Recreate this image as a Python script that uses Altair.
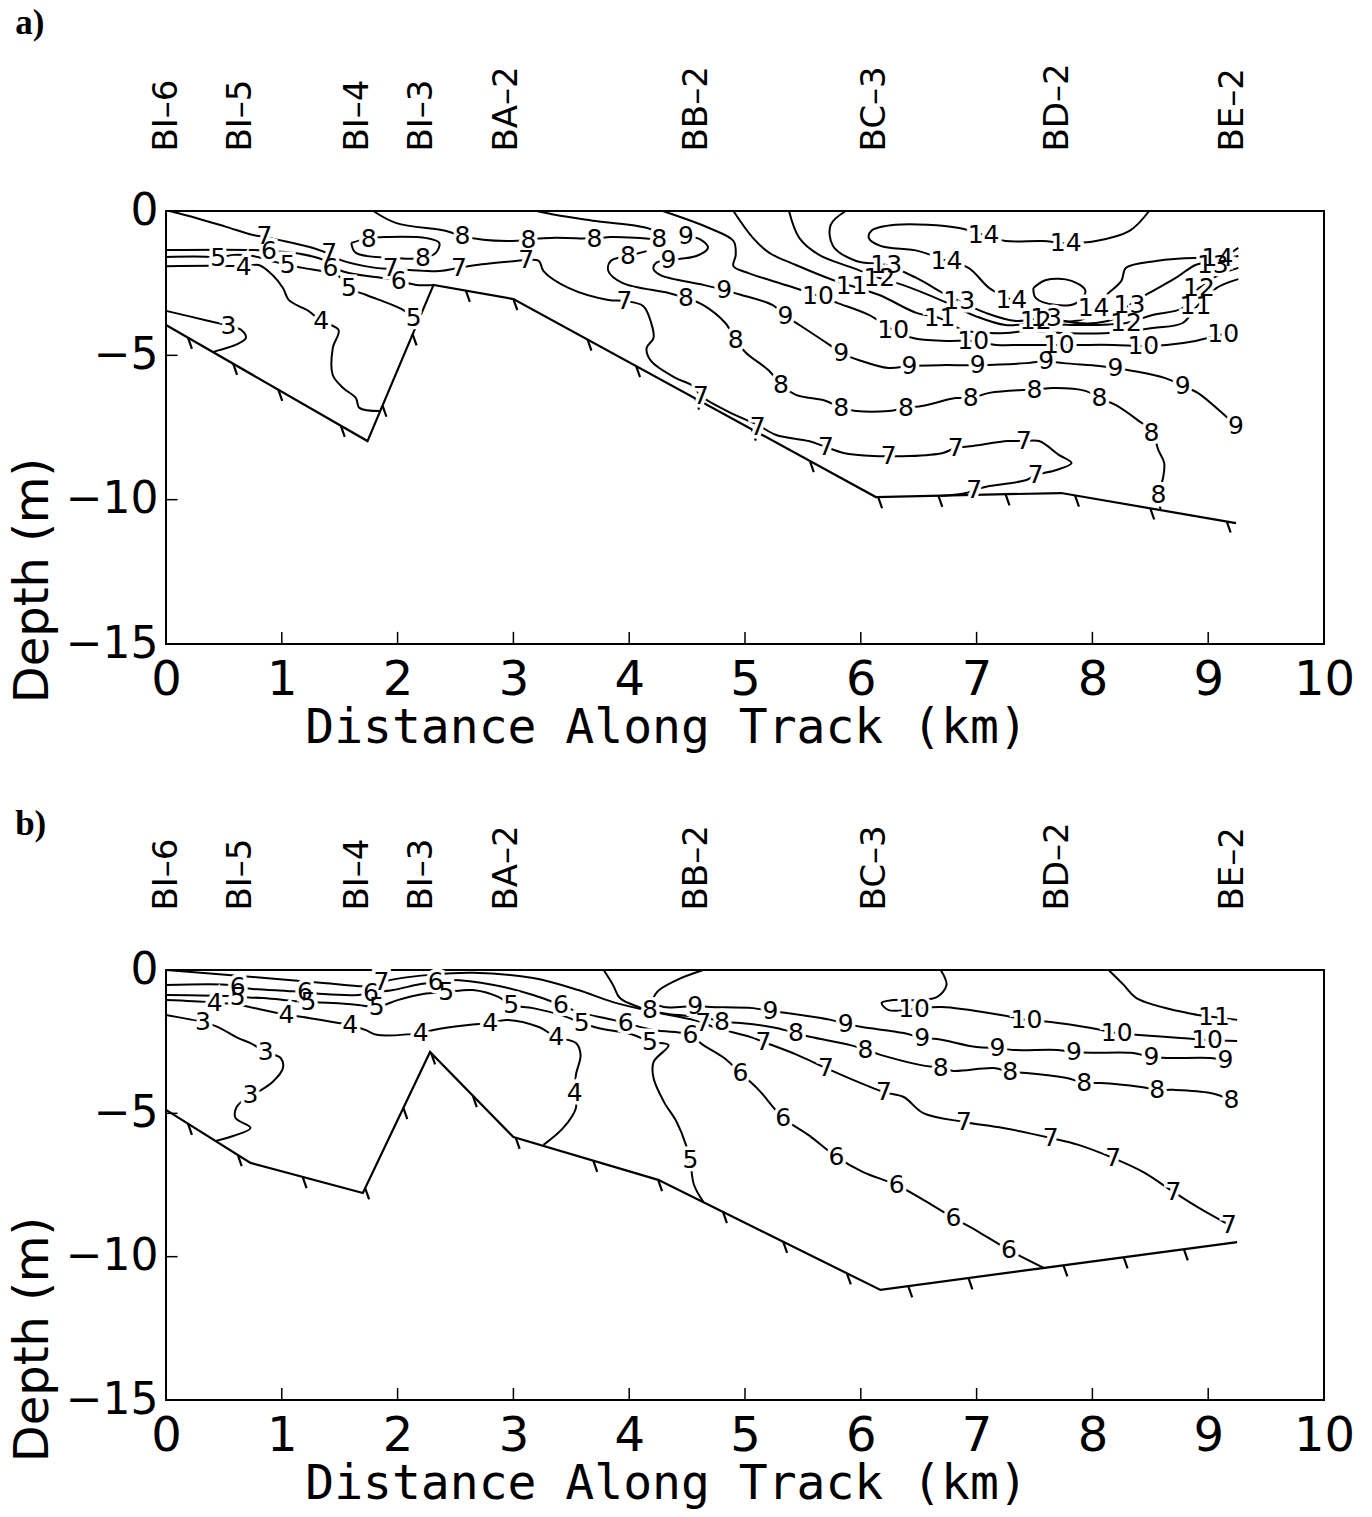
import altair as alt
import pandas as pd

# ---------------- shared labels / ticks ----------------
STATION_NAMES = ["BI–6", "BI–5", "BI–4", "BI–3", "BA–2", "BB–2", "BC–3", "BD–2", "BE–2"]
STATION_KM = [0.0, 0.64, 1.65, 2.21, 2.94, 4.58, 6.12, 7.70, 9.21]
X_TICKS = [0, 1, 2, 3, 4, 5, 6, 7, 8, 9, 10]
Y_TICKS = [0, -5, -10, -15]
X_INNER = [1, 2, 3, 4, 5, 6, 7, 8, 9]
Y_INNER = [-5, -10]

# ---------------- panel a ----------------
BOTTOM_A = [(0.00, -3.95), (1.74, -7.97), (2.31, -2.56), (3.00, -3.05), (6.13, -9.91), (7.73, -9.77), (9.24, -10.81)]
HACH_A_KM = [0.19, 0.58, 0.97, 1.51, 1.87, 2.13, 2.59, 3.00, 3.64, 4.06, 4.57, 5.06, 5.56, 6.15, 6.67, 7.25, 7.85, 8.50, 9.16]
HACH_A_M = [-4.39, -5.29, -6.19, -7.44, -6.74, -4.27, -2.76, -3.05, -4.45, -5.37, -6.49, -7.57, -8.66, -9.91, -9.86, -9.81, -9.85, -10.30, -10.75]

A3 = [(0.00, -3.46), (0.37, -3.81), (0.54, -3.98), (0.65, -4.12), (0.69, -4.40), (0.60, -4.64), (0.46, -4.82), (0.41, -4.88)]
LAB_A3 = [(0.54, -3.98)]
A4 = [(0.00, -1.91), (0.60, -1.91), (0.67, -1.94), (0.80, -1.87), (0.92, -2.22), (1.01, -2.67), (1.06, -3.08), (1.18, -3.36),
      (1.23, -3.46), (1.34, -3.81), (1.49, -4.12), (1.44, -4.75), (1.44, -5.68), (1.53, -6.13), (1.64, -6.48), (1.67, -6.82), (1.85, -6.93)]
LAB_A4 = [(0.67, -1.94), (1.34, -3.81)]
A5 = [(0.00, -1.59), (0.37, -1.59), (0.45, -1.63), (0.58, -1.52), (0.75, -1.56), (0.91, -1.73), (1.05, -1.87), (1.18, -1.97),
      (1.49, -2.25), (1.58, -2.67), (1.73, -2.91), (2.05, -3.43), (2.14, -3.71), (2.18, -3.81)]
LAB_A5 = [(0.45, -1.63), (1.05, -1.87), (1.58, -2.67), (2.14, -3.71)]
A6 = [(0.00, -1.35), (0.75, -1.35), (0.89, -1.39), (1.10, -1.45), (1.36, -1.70), (1.42, -1.91), (1.58, -2.15), (1.87, -2.32),
      (2.01, -2.42), (2.16, -2.56), (2.31, -2.56)]
LAB_A6 = [(0.89, -1.39), (1.42, -1.97), (2.01, -2.42)]
A7 = [(0.03, 0.00), (0.26, -0.24), (0.52, -0.55), (0.75, -0.83), (0.85, -0.90), (0.97, -1.00), (1.27, -1.28), (1.41, -1.49),
      (1.51, -1.70), (1.81, -1.97), (1.94, -2.01), (2.10, -2.04), (2.36, -2.08), (2.53, -1.97), (2.68, -1.87), (3.02, -1.73),
      (3.11, -1.70), (3.22, -1.73), (3.26, -2.08), (3.48, -2.67), (3.82, -3.08), (3.96, -3.12), (4.12, -3.29), (4.19, -3.88),
      (4.21, -4.40), (4.15, -4.75), (4.19, -5.20), (4.40, -5.78), (4.55, -6.06), (4.62, -6.41), (4.88, -7.00), (5.11, -7.41),
      (5.27, -7.76), (5.55, -7.97), (5.70, -8.18), (5.85, -8.38), (6.11, -8.49), (6.24, -8.49), (6.42, -8.49), (6.71, -8.38),
      (6.82, -8.21), (6.97, -8.14), (7.27, -7.97), (7.41, -7.97), (7.54, -7.97), (7.71, -8.45), (7.82, -8.73), (7.69, -8.97),
      (7.51, -9.15), (7.43, -9.32), (7.11, -9.53), (6.98, -9.66), (6.91, -9.77), (6.69, -9.87)]
LAB_A7 = [(0.85, -0.87), (1.41, -1.45), (1.94, -1.97), (2.53, -1.97), (3.11, -1.70), (3.96, -3.12), (4.62, -6.41), (5.11, -7.48),
          (5.70, -8.18), (6.24, -8.49), (6.82, -8.21), (7.41, -7.97), (7.51, -9.15), (6.98, -9.66)]
A8_TOP = [(1.79, 0.00), (1.99, -0.42), (2.42, -0.69), (2.56, -0.87), (2.74, -1.00), (2.96, -1.04), (3.13, -1.00), (3.26, -0.94),
          (3.54, -0.94), (3.70, -0.97), (3.84, -0.90), (4.12, -0.94), (4.26, -0.97), (4.20, -0.66), (3.71, -0.35), (3.37, -0.14), (3.20, 0.00)]
LAB_A8_TOP = [(2.56, -0.87), (3.13, -1.00), (3.70, -0.97), (4.26, -0.97)]
A8_LOOP = [(1.60, -1.11), (1.64, -1.45), (1.99, -1.63), (2.22, -1.63), (2.33, -1.45), (2.36, -1.11), (2.25, -0.94), (1.90, -0.90),
           (1.75, -0.94), (1.60, -1.11)]
LAB_A8_LOOP = [(1.75, -0.97), (2.22, -1.63)]
A8_LOW = [(4.15, -1.39), (3.99, -1.56), (3.84, -1.73), (3.82, -2.08), (3.94, -2.49), (4.34, -2.84), (4.49, -3.01), (4.64, -3.26),
          (4.83, -3.88), (4.92, -4.47), (5.01, -4.92), (5.21, -5.54), (5.31, -6.03), (5.44, -6.37), (5.70, -6.58), (5.83, -6.82),
          (5.96, -6.93), (6.24, -6.93), (6.39, -6.82), (6.54, -6.75), (6.82, -6.48), (6.95, -6.48), (7.11, -6.30), (7.40, -6.20),
          (7.50, -6.20), (7.66, -6.13), (7.94, -6.23), (8.06, -6.48), (8.20, -6.72), (8.40, -7.27), (8.51, -7.62), (8.57, -8.28),
          (8.62, -8.73), (8.61, -9.25), (8.57, -9.84), (8.59, -10.36)]
LAB_A8_LOW = [(3.99, -1.56), (4.49, -3.01), (4.92, -4.47), (5.31, -6.03), (5.83, -6.82), (6.39, -6.82), (6.95, -6.48), (7.50, -6.20),
              (8.06, -6.48), (8.51, -7.69), (8.57, -9.84)]
A9 = [(4.49, -0.87), (4.62, -1.00), (4.68, -1.28), (4.58, -1.56), (4.34, -1.70), (4.23, -1.80), (4.21, -2.01), (4.27, -2.22),
      (4.64, -2.56), (4.82, -2.74), (4.97, -2.91), (5.24, -3.26), (5.35, -3.64), (5.47, -3.95), (5.73, -4.64), (5.83, -4.92),
      (5.98, -5.16), (6.24, -5.44), (6.42, -5.37), (6.69, -5.34), (7.01, -5.34), (7.43, -5.27), (7.60, -5.20), (7.75, -5.27),
      (8.06, -5.37), (8.20, -5.44), (8.35, -5.54), (8.63, -5.79), (8.78, -6.06), (8.91, -6.30), (9.14, -7.07), (9.24, -7.45)]
LAB_A9 = [(4.49, -0.87), (4.34, -1.70), (4.82, -2.74), (5.35, -3.64), (5.83, -4.92), (6.42, -5.37), (7.01, -5.34), (7.60, -5.20),
          (8.20, -5.44), (8.78, -6.06), (9.24, -7.45)]
A10 = [(4.29, 0.00), (4.69, -0.59), (4.90, -1.04), (4.92, -1.52), (4.90, -1.91), (5.03, -2.15), (5.38, -2.60), (5.63, -2.94),
       (5.80, -3.19), (6.07, -3.60), (6.28, -4.12), (6.45, -4.40), (6.74, -4.50), (6.97, -4.50), (7.17, -4.64), (7.40, -4.64),
       (7.71, -4.64), (7.88, -4.64), (8.18, -4.64), (8.44, -4.68), (8.64, -4.64), (8.89, -4.50), (9.13, -4.26), (9.26, -4.16)]
LAB_A10 = [(5.63, -2.94), (6.28, -4.12), (6.97, -4.50), (7.71, -4.64), (8.44, -4.68), (9.13, -4.26)]
A11 = [(4.90, 0.00), (5.07, -0.94), (5.21, -1.45), (5.44, -1.87), (5.76, -2.39), (5.92, -2.60), (6.16, -2.91), (6.48, -3.53),
       (6.68, -3.71), (6.88, -4.12), (7.25, -4.23), (7.43, -4.16), (7.77, -4.23), (8.14, -4.23), (8.52, -4.05), (8.78, -3.88),
       (8.89, -3.36), (9.07, -2.67), (9.26, -2.36)]
LAB_A11 = [(5.92, -2.60), (6.68, -3.71), (8.89, -3.30)]
A12 = [(5.38, 0.00), (5.47, -0.94), (5.64, -1.52), (5.93, -1.97), (6.16, -2.32), (6.36, -2.56), (6.71, -3.12), (6.99, -3.64),
       (7.25, -3.95), (7.51, -3.88), (7.85, -3.95), (8.29, -3.88), (8.52, -3.60), (8.78, -3.36), (8.92, -2.67), (9.09, -2.22), (9.26, -1.97)]
LAB_A12 = [(6.16, -2.32), (7.51, -3.81), (8.29, -3.88), (8.92, -2.67)]
A13 = [(5.87, 0.00), (5.74, -0.48), (5.76, -1.21), (5.96, -1.73), (6.22, -1.87), (6.48, -2.32), (6.74, -2.91), (6.85, -3.12),
       (7.08, -3.53), (7.34, -3.81), (7.60, -3.71), (7.86, -3.88), (8.03, -3.88), (8.20, -3.71), (8.32, -3.26), (8.49, -2.84),
       (8.72, -2.32), (8.89, -1.87), (9.04, -1.73), (9.26, -1.56)]
LAB_A13 = [(6.22, -1.87), (6.85, -3.12), (7.60, -3.71), (8.32, -3.26), (9.04, -1.87)]
A14 = [(8.49, 0.00), (8.32, -0.69), (8.03, -1.04), (7.77, -1.11), (7.57, -1.04), (7.25, -1.04), (7.06, -0.83), (6.85, -0.59),
       (6.30, -0.48), (6.09, -0.69), (6.07, -0.94), (6.17, -1.21), (6.50, -1.39), (6.74, -1.73), (6.93, -1.97), (7.11, -2.67),
       (7.30, -3.08), (7.51, -3.53), (7.71, -3.81), (7.94, -3.71), (8.01, -3.36), (8.12, -2.91), (8.25, -2.42), (8.29, -1.97),
       (8.55, -1.73), (8.89, -1.63), (9.08, -1.66), (9.26, -1.28)]
LAB_A14 = [(7.06, -0.83), (7.77, -1.11), (6.74, -1.73), (7.30, -3.08), (8.01, -3.36), (9.08, -1.63)]
A_CORE = [(7.49, -2.67), (7.60, -2.39), (7.82, -2.42), (7.94, -2.77), (7.86, -3.19), (7.69, -3.26), (7.51, -3.01), (7.49, -2.67)]
LAB_A_CORE = []

# ---------------- panel b ----------------
BOTTOM_B = [(0.00, -4.88), (0.73, -6.73), (1.70, -7.78), (2.28, -2.86), (3.00, -5.83), (4.25, -7.32), (6.17, -11.16), (9.25, -9.49)]
HACH_B_KM = [0.19, 0.62, 1.18, 1.72, 2.05, 2.29, 2.65, 3.02, 3.69, 4.25, 4.81, 5.33, 5.88, 6.41, 6.93, 7.75, 8.27, 8.79]
HACH_B_M = [-5.36, -6.45, -7.22, -7.61, -4.81, -2.90, -4.39, -5.85, -6.65, -7.32, -8.44, -9.48, -10.58, -11.03, -10.75, -10.30, -10.02, -9.74]

B3 = [(0.00, -1.57), (0.23, -1.74), (0.32, -1.81), (0.45, -1.99), (0.62, -2.37), (0.73, -2.55), (0.86, -2.86), (0.99, -3.07),
      (1.01, -3.42), (0.92, -3.91), (0.82, -4.19), (0.73, -4.36), (0.61, -4.78), (0.60, -5.16), (0.73, -5.51), (0.58, -5.79), (0.43, -5.96)]
LAB_B3 = [(0.32, -1.81), (0.86, -2.86), (0.73, -4.36)]
B4 = [(0.00, -1.05), (0.36, -1.12), (0.42, -1.15), (0.58, -1.19), (0.88, -1.43), (1.04, -1.57), (1.18, -1.64), (1.49, -1.85),
      (1.59, -1.92), (1.72, -2.09), (1.83, -2.27), (2.13, -2.23), (2.20, -2.20), (2.31, -2.09), (2.61, -1.92), (2.80, -1.85),
      (2.94, -1.74), (3.22, -1.99), (3.37, -2.34), (3.54, -2.55), (3.58, -2.96), (3.54, -3.66), (3.53, -4.29), (3.54, -4.81),
      (3.43, -5.51), (3.26, -6.10)]
LAB_B4 = [(0.42, -1.15), (1.04, -1.57), (1.59, -1.92), (2.20, -2.20), (2.80, -1.85), (3.37, -2.34), (3.53, -4.29)]
B5 = [(0.00, -0.87), (0.55, -0.91), (0.62, -0.94), (0.84, -0.98), (1.10, -1.08), (1.23, -1.12), (1.44, -1.15), (1.66, -1.22),
      (1.82, -1.29), (2.00, -1.05), (2.22, -0.84), (2.42, -0.77), (2.65, -0.70), (2.87, -0.94), (2.98, -1.22), (3.17, -1.33),
      (3.43, -1.60), (3.59, -1.85), (3.73, -2.02), (4.04, -2.27), (4.18, -2.51), (4.34, -2.62), (4.21, -3.21), (4.21, -3.77),
      (4.30, -4.60), (4.41, -5.30), (4.49, -6.10), (4.53, -6.80), (4.56, -7.50), (4.64, -8.09)]
LAB_B5 = [(0.62, -0.94), (1.23, -1.12), (1.82, -1.29), (2.42, -0.77), (2.98, -1.22), (3.59, -1.85), (4.18, -2.51), (4.53, -6.63)]
B6 = [(0.00, -0.52), (0.55, -0.52), (0.62, -0.59), (0.75, -0.66), (1.04, -0.73), (1.20, -0.77), (1.36, -0.84), (1.66, -0.87),
      (1.77, -0.80), (1.96, -0.70), (2.20, -0.49), (2.33, -0.42), (2.45, -0.35), (2.83, -0.52), (3.17, -0.87), (3.41, -1.22),
      (3.56, -1.46), (3.86, -1.74), (3.97, -1.85), (4.21, -2.09), (4.47, -2.20), (4.53, -2.27), (4.64, -2.62), (4.82, -3.07),
      (4.96, -3.59), (5.12, -4.19), (5.33, -5.16), (5.55, -5.76), (5.79, -6.52), (6.02, -7.05), (6.31, -7.50), (6.54, -8.02),
      (6.80, -8.65), (7.02, -9.14), (7.28, -9.77), (7.58, -10.39)]
LAB_B6 = [(0.62, -0.59), (1.20, -0.77), (1.77, -0.80), (2.33, -0.42), (3.41, -1.22), (3.97, -1.85), (4.53, -2.27), (4.96, -3.59),
          (5.33, -5.16), (5.79, -6.52), (6.31, -7.50), (6.80, -8.65), (7.28, -9.77)]
B7 = [(0.00, 0.00), (0.75, -0.24), (1.36, -0.45), (1.75, -0.56), (1.86, -0.42), (1.99, -0.31), (2.28, -0.17), (2.65, -0.10),
      (3.17, -0.28), (3.56, -0.70), (3.86, -1.12), (4.21, -1.46), (4.55, -1.74), (4.64, -1.85), (4.75, -2.02), (5.05, -2.34),
      (5.16, -2.51), (5.45, -2.96), (5.70, -3.42), (5.98, -3.91), (6.20, -4.26), (6.37, -4.43), (6.54, -4.99), (6.89, -5.30),
      (7.23, -5.51), (7.64, -5.86), (7.88, -6.10), (8.18, -6.56), (8.44, -7.05), (8.70, -7.74), (8.92, -8.30), (9.18, -8.89)]
LAB_B7 = [(1.86, -0.42), (4.64, -1.85), (5.16, -2.51), (5.70, -3.42), (6.20, -4.26), (6.89, -5.30), (7.64, -5.86), (8.18, -6.56),
          (8.70, -7.74), (9.18, -8.89)]
B8 = [(3.78, 0.00), (3.86, -0.52), (3.92, -0.98), (4.08, -1.29), (4.18, -1.40), (4.32, -1.53), (4.67, -1.67), (4.80, -1.81),
      (4.96, -1.85), (5.27, -2.02), (5.44, -2.20), (5.57, -2.34), (5.91, -2.62), (6.04, -2.79), (6.17, -2.96), (6.51, -3.31),
      (6.69, -3.42), (6.80, -3.52), (7.15, -3.42), (7.29, -3.56), (7.43, -3.59), (7.78, -3.77), (7.93, -3.94), (8.07, -3.94),
      (8.42, -4.08), (8.56, -4.18), (8.70, -4.18), (9.02, -4.29), (9.20, -4.53)]
LAB_B8 = [(4.18, -1.40), (4.80, -1.81), (5.44, -2.20), (6.04, -2.79), (6.69, -3.42), (7.29, -3.56), (7.93, -3.94), (8.56, -4.18), (9.20, -4.53)]
B9 = [(4.64, 0.00), (4.41, -0.35), (4.24, -0.77), (4.21, -1.12), (4.30, -1.29), (4.44, -1.29), (4.57, -1.26), (4.70, -1.29),
      (5.07, -1.33), (5.22, -1.43), (5.36, -1.50), (5.74, -1.74), (5.87, -1.88), (6.01, -1.99), (6.37, -2.20), (6.53, -2.37),
      (6.66, -2.41), (7.00, -2.69), (7.18, -2.72), (7.32, -2.79), (7.70, -2.79), (7.84, -2.86), (7.99, -2.89), (8.33, -2.89),
      (8.51, -3.03), (8.64, -3.07), (9.02, -3.07), (9.15, -3.14)]
LAB_B9 = [(4.57, -1.26), (5.22, -1.43), (5.87, -1.88), (6.53, -2.37), (7.18, -2.72), (7.84, -2.86), (8.51, -3.03), (9.15, -3.14)]
B10 = [(6.69, 0.00), (6.74, -0.52), (6.66, -0.94), (6.50, -1.05), (6.28, -1.05), (6.18, -1.15), (6.24, -1.40), (6.46, -1.36),
       (6.70, -1.29), (7.21, -1.57), (7.43, -1.74), (7.64, -1.81), (7.99, -2.02), (8.21, -2.20), (8.40, -2.27), (8.76, -2.37),
       (8.99, -2.44), (9.25, -2.48)]
LAB_B10 = [(6.46, -1.36), (7.43, -1.74), (8.21, -2.20), (8.99, -2.44)]
B11 = [(8.14, 0.00), (8.27, -0.52), (8.38, -0.98), (8.82, -1.50), (9.05, -1.64), (9.25, -1.74)]
LAB_B11 = [(9.05, -1.64)]

CONTOURS_A = [("3", A3, LAB_A3), ("4", A4, LAB_A4), ("5", A5, LAB_A5), ("6", A6, LAB_A6), ("7", A7, LAB_A7),
              ("8", A8_TOP, LAB_A8_TOP), ("8", A8_LOOP, LAB_A8_LOOP), ("8", A8_LOW, LAB_A8_LOW), ("9", A9, LAB_A9),
              ("10", A10, LAB_A10), ("11", A11, LAB_A11), ("12", A12, LAB_A12), ("13", A13, LAB_A13),
              ("14", A14, LAB_A14), ("15", A_CORE, LAB_A_CORE)]
CONTOURS_B = [("3", B3, LAB_B3), ("4", B4, LAB_B4), ("5", B5, LAB_B5), ("6", B6, LAB_B6), ("7", B7, LAB_B7),
              ("8", B8, LAB_B8), ("9", B9, LAB_B9), ("10", B10, LAB_B10), ("11", B11, LAB_B11)]

FONT = "DejaVu Sans"
XS = alt.Scale(domain=[0, 10], nice=False, zero=False)
YS = alt.Scale(domain=[-15, 0], nice=False, zero=False)

X_AXIS = alt.Axis(values=X_TICKS, title="Distance Along Track (km)", labelFlush=False, ticks=False, domain=False,
                  grid=False, labelFont=FONT, labelFontSize=48, labelColor="black", labelPadding=12,
                  titleFont="DejaVu Sans Mono", titleFontSize=48, titleFontWeight="normal", titleColor="black",
                  titlePadding=0, titleX=500, titleAlign="center", labelOverlap=False)
Y_AXIS = alt.Axis(values=Y_TICKS, title="Depth (m)", ticks=False, domain=False, grid=False, labelFont=FONT,
                  labelFontSize=44, labelColor="black", labelPadding=8, labelFlush=False, labelOverlap=False,
                  titleFont=FONT, titleFontSize=48, titleFontWeight="normal", titleColor="black", titlePadding=8,
                  titleY=369, titleAlign="center")
TOP_AXIS = alt.Axis(orient="top", values=STATION_KM, title=None, ticks=False, domain=False, grid=False,
                    labelAngle=270, labelAlign="left", labelBaseline="middle", labelPadding=60,
                    labelFont=FONT, labelFontSize=34, labelColor="black", labelFlush=False, labelOverlap=False,
                    labelExpr="%s[indexof(%s, datum.value)]" % (
                        "[" + ",".join("'%s'" % s for s in STATION_NAMES) + "]",
                        "[" + ",".join(str(v) for v in STATION_KM) + "]"))


def pts_df(pts):
    return pd.DataFrame({"km": [p[0] for p in pts], "m": [p[1] for p in pts], "ord": list(range(len(pts)))})


def make_panel(tag, contours, bottom, hach_km, hach_m, width, height, title_offset):
    rows, labs = [], []
    for i, (val, pts, lab) in enumerate(contours):
        for j, (k, m) in enumerate(pts):
            rows.append({"cid": i, "ord": j, "km": k, "m": m})
        for (k, m) in lab:
            labs.append({"km": k, "m": m, "txt": val})
    lines_df = pd.DataFrame(rows)
    labels_df = pd.DataFrame(labs)
    bottom_df = pts_df(bottom)
    hach_df = pd.DataFrame({"km": hach_km, "m": hach_m})
    vt = pd.DataFrame({"km": X_INNER, "m": [-15] * len(X_INNER), "m2": [-14.58] * len(X_INNER)})
    ht = pd.DataFrame({"km": [0] * len(Y_INNER), "km2": [0.1] * len(Y_INNER), "m": Y_INNER})
    st = pd.DataFrame({"km": STATION_KM, "m": [0] * len(STATION_KM)})

    X = alt.X("km:Q", scale=XS, axis=X_AXIS)
    Y = alt.Y("m:Q", scale=YS, axis=Y_AXIS)

    lines = alt.Chart(lines_df).mark_line(color="black", strokeWidth=2, interpolate="catmull-rom").encode(
        x=X, y=Y, detail="cid:N", order="ord:Q")
    bline = alt.Chart(bottom_df).mark_line(color="black", strokeWidth=2.2).encode(x=X, y=Y, order="ord:Q")
    hach = alt.Chart(hach_df).mark_point(shape="M0,0L0.35,1", filled=False, color="black", strokeWidth=2.2,
                                          size=500, opacity=1).encode(x=X, y=Y)
    vtk = alt.Chart(vt).mark_rule(color="black", strokeWidth=1.5).encode(x=X, y=Y, y2="m2:Q")
    htk = alt.Chart(ht).mark_rule(color="black", strokeWidth=1.5).encode(x=X, x2="km2:Q", y=Y)
    halo = alt.Chart(labels_df).mark_text(font=FONT, fontSize=25, color="white", stroke="white", strokeWidth=7,
                                          align="center", baseline="middle").encode(x=X, y=Y, text="txt:N")
    text = alt.Chart(labels_df).mark_text(font=FONT, fontSize=25, color="black",
                                          align="center", baseline="middle").encode(x=X, y=Y, text="txt:N")
    inner = alt.layer(lines, bline, hach, vtk, htk, halo, text)
    top = alt.Chart(st).mark_point(opacity=0).encode(x=alt.X("km:Q", scale=XS, axis=TOP_AXIS), y=Y)
    return alt.layer(inner, top).resolve_axis(x="independent").properties(
        width=width, height=height,
        title=alt.TitleParams(tag, anchor="start", frame="bounds", font="Liberation Serif", fontSize=35,
                              fontWeight="bold", color="black", offset=title_offset, dx=6))


pa = make_panel("a)", CONTOURS_A, BOTTOM_A, HACH_A_KM, HACH_A_M, 1158, 433, 22)
pb = make_panel("b)", CONTOURS_B, BOTTOM_B, HACH_B_KM, HACH_B_M, 1158, 430, -20)

chart = alt.vconcat(pa, pb, spacing=52).properties(
    padding={"left": 8, "top": 4, "right": 6, "bottom": 2}, background="white"
).configure_view(stroke="black", strokeWidth=2)

chart.save("out.html", embed_options={"renderer": "svg", "actions": False})
